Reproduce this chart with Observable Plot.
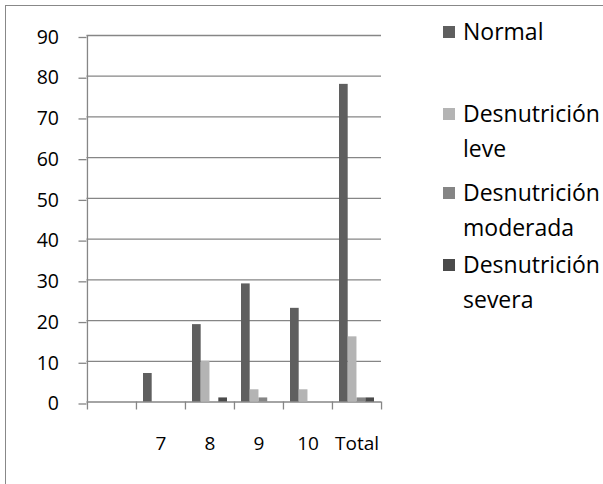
<!DOCTYPE html>
<html>
<head>
<meta charset="utf-8">
<script src="https://cdn.jsdelivr.net/npm/d3@7"></script>
<script src="https://cdn.jsdelivr.net/npm/@observablehq/plot@0.6"></script>
<style>
  html, body { margin: 0; padding: 0; background: #fff; }
  #wrap { position: relative; width: 603px; height: 484px; overflow: hidden; font-family: "Open Sans", sans-serif; }
  #chart { position: absolute; left: 0; top: 0; }
  #frame { position: absolute; left: 5px; top: 5px; width: 800px; height: 800px; border-left: 1px solid #888; border-top: 1px solid #888; }
  .leg-sq { position: absolute; width: 12px; height: 12px; }
  .leg-tx { position: absolute; font-size: 23px; line-height: 35px; color: #000; white-space: nowrap; }
</style>
</head>
<body>
<div id="wrap">
  <div id="chart"></div>
  <div id="frame"></div>
  <div id="legend"></div>
</div>
<script>
// ---- data ----
const categories = ["", "7", "8", "9", "10", "Total"];
const seriesNames = ["Normal", "Desnutrición leve", "Desnutrición moderada", "Desnutrición severa"];
const normalValues   = [null, 7, 19, 29, 23, 78];
const leveValues     = [null, 0, 10, 3, 3, 16];
const moderadaValues = [null, 0, 0, 1, 0, 1];
const severaValues   = [null, 0, 1, 0, 0, 1];
const seriesColors = ["#5f5f5f", "#b4b4b4", "#858585", "#4a4a4a"];
const yTickValues = [0, 10, 20, 30, 40, 50, 60, 70, 80, 90];

// ---- layout ----
const W = 603, H = 484;
const mL = 86.5, mR = W - 381, mT = 35, mB = H - 401.5;
const bandW = (W - mL - mR) / categories.length;
const groupPad = 7;
const barW = (bandW - 2 * groupPad) / seriesNames.length;
const axisGray = "#868686";

const allValues = [normalValues, leveValues, moderadaValues, severaValues];

const barMarks = seriesNames.map((s, si) => {
  const rows = categories
    .map((c, ci) => ({cat: c, series: s, value: allValues[si][ci]}))
    .filter(d => d.value != null);
  return Plot.barY(rows, {
    x: "cat",
    y: "value",
    fill: seriesColors[si],
    insetLeft: groupPad + si * barW,
    insetRight: bandW - groupPad - (si + 1) * barW
  });
});

const chart = Plot.plot({
  width: W,
  height: H,
  marginLeft: mL,
  marginRight: mR,
  marginTop: mT,
  marginBottom: mB,
  style: {background: "transparent", fontFamily: "'Open Sans', sans-serif", fontSize: "19px", color: "#000"},
  x: {type: "band", domain: categories, padding: 0, axis: null},
  y: {domain: [0, 90], axis: null},
  marks: [
    // horizontal gridlines
    Plot.ruleY(yTickValues, {y: d => d, stroke: axisGray, strokeWidth: 1.3}),
    ...barMarks,
    // vertical axis line
    Plot.ruleX([categories[0]], {x: d => d, dx: -bandW / 2, y1: 0, y2: 90, stroke: axisGray, strokeWidth: 1.3}),
    // category boundary tick marks
    Plot.ruleX(categories, {x: d => d, dx: -bandW / 2, y1: 0, y2: 0, insetBottom: -8, stroke: axisGray, strokeWidth: 1.3}),
    Plot.ruleX([categories[categories.length - 1]], {x: d => d, dx: bandW / 2, y1: 0, y2: 0, insetBottom: -8, stroke: axisGray, strokeWidth: 1.3}),
    // y axis ticks and labels
    Plot.axisY(yTickValues, {tickSize: 8, tickPadding: 20, stroke: axisGray, strokeWidth: 1.3, fill: "#000", fontSize: 19.5, dy: 2, label: null}),
    // x axis labels
    Plot.axisX({tickSize: 0, tickPadding: 34, fill: "#000", fontSize: 19, label: null})
  ]
});
document.getElementById("chart").appendChild(chart);

// ---- legend ----
const legendCenters = [31.5, 114, 192.5, 265];
const legend = document.getElementById("legend");
seriesNames.forEach((name, i) => {
  const sq = document.createElement("div");
  sq.className = "leg-sq";
  sq.style.background = seriesColors[i];
  sq.style.left = "443px";
  sq.style.top = (legendCenters[i] - 6) + "px";
  legend.appendChild(sq);
  const tx = document.createElement("div");
  tx.className = "leg-tx";
  tx.style.left = "463px";
  tx.style.top = (legendCenters[i] - 18) + "px";
  tx.innerHTML = name.split(" ").join("<br>");
  legend.appendChild(tx);
});
</script>
</body>
</html>
